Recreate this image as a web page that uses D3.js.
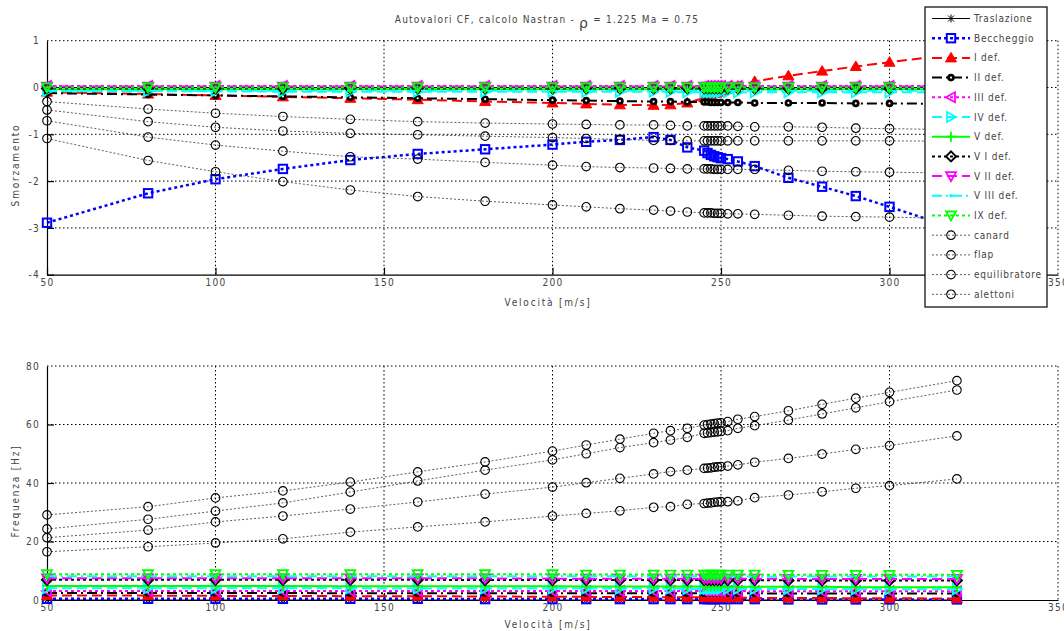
<!DOCTYPE html>
<html>
<head>
<meta charset="utf-8">
<script src="https://d3js.org/d3.v7.min.js"></script>
<style>
  body { margin: 0; background: #fff; }
  svg { display: block; }
  text { font-family: "Liberation Sans Narrow", "DejaVu Sans Condensed", "Liberation Sans", sans-serif; fill: #444; }
</style>
</head>
<body>
<svg id="canvas" width="1064" height="631"></svg>
<script>
// ---------------------------------------------------------------- //
// Dati

var velocita = [50, 80, 100, 120, 140, 160, 180, 200, 210, 220, 230, 235, 240, 245, 246, 247, 248, 249, 250, 252, 255, 260, 270, 280, 290, 300, 320];

var nomiModi = ['Traslazione', 'Beccheggio', 'I def.', 'II def.', 'III def.', 'IV  def.', 'V  def.', 'V I def.', 'V II def.', 'V III def.', 'IX  def.', 'canard', 'flap', 'equilibratore', 'alettoni'];

// smorzamento
var smTrasl  = [0,0,0,0,0,0,0,0,0,0,0,0,0,0,0,0,0,0,0,0,0,0,0,0,0,0,0];
var smBecch  = [-2.89,-2.26,-1.96,-1.74,-1.55,-1.42,-1.32,-1.22,-1.16,-1.12,-1.06,-1.12,-1.28,-1.35,-1.40,-1.44,-1.47,-1.49,-1.51,-1.53,-1.58,-1.68,-1.93,-2.12,-2.32,-2.55,-3.02];
var smDefI   = [-0.10,-0.14,-0.17,-0.20,-0.23,-0.26,-0.30,-0.33,-0.35,-0.37,-0.38,-0.37,-0.33,-0.22,-0.19,-0.16,-0.13,-0.10,-0.08,-0.03,0.03,0.13,0.25,0.35,0.45,0.54,0.72];
var smDefII  = [-0.12,-0.15,-0.17,-0.19,-0.21,-0.23,-0.25,-0.27,-0.28,-0.29,-0.30,-0.30,-0.31,-0.31,-0.31,-0.32,-0.32,-0.32,-0.32,-0.32,-0.32,-0.33,-0.33,-0.33,-0.34,-0.34,-0.35];
var smDefIII = [0.03,0.03,0.03,0.03,0.03,0.03,0.03,0.03,0.03,0.03,0.03,0.03,0.03,0.03,0.03,0.03,0.03,0.03,0.03,0.03,0.03,0.03,0.03,0.03,0.03,0.03,0.03];
var smDefIV  = [-0.08,-0.08,-0.08,-0.09,-0.09,-0.09,-0.09,-0.09,-0.09,-0.09,-0.09,-0.09,-0.10,-0.10,-0.10,-0.10,-0.10,-0.10,-0.10,-0.10,-0.10,-0.10,-0.10,-0.10,-0.10,-0.10,-0.10];
var smDefV   = [-0.04,-0.04,-0.04,-0.04,-0.04,-0.04,-0.04,-0.04,-0.04,-0.04,-0.04,-0.04,-0.04,-0.04,-0.04,-0.04,-0.04,-0.04,-0.04,-0.04,-0.04,-0.04,-0.04,-0.04,-0.04,-0.04,-0.04];
var smDefVI  = [-0.02,-0.02,-0.02,-0.02,-0.02,-0.02,-0.02,-0.02,-0.02,-0.02,-0.02,-0.02,-0.02,-0.02,-0.02,-0.02,-0.02,-0.02,-0.02,-0.02,-0.02,-0.02,-0.02,-0.02,-0.02,-0.02,-0.02];
var smDefVII = [0.02,0.02,0.02,0.02,0.02,0.02,0.02,0.02,0.02,0.02,0.02,0.02,0.02,0.02,0.02,0.02,0.02,0.02,0.02,0.02,0.02,0.02,0.02,0.02,0.02,0.02,0.02];
var smDefVIII= [-0.07,-0.07,-0.07,-0.07,-0.07,-0.07,-0.07,-0.07,-0.07,-0.07,-0.07,-0.07,-0.07,-0.07,-0.07,-0.07,-0.07,-0.07,-0.07,-0.07,-0.07,-0.07,-0.07,-0.07,-0.07,-0.07,-0.07];
var smDefIX  = [0,0,0,0,0,0,0,0,0,0,0,0,0,0,0,0,0,0,0,0,0,0,0,0,0,0,0];
var smCanard = [-0.30,-0.46,-0.55,-0.62,-0.68,-0.73,-0.76,-0.78,-0.79,-0.80,-0.80,-0.81,-0.82,-0.82,-0.82,-0.82,-0.82,-0.82,-0.82,-0.82,-0.83,-0.84,-0.84,-0.85,-0.87,-0.88,-0.90];
var smFlap   = [-0.48,-0.73,-0.85,-0.93,-0.98,-1.01,-1.04,-1.07,-1.09,-1.11,-1.13,-1.13,-1.14,-1.14,-1.14,-1.14,-1.14,-1.14,-1.14,-1.14,-1.14,-1.14,-1.14,-1.14,-1.14,-1.14,-1.15];
var smEquil  = [-0.71,-1.06,-1.23,-1.36,-1.48,-1.53,-1.60,-1.66,-1.69,-1.71,-1.72,-1.73,-1.74,-1.74,-1.74,-1.74,-1.75,-1.75,-1.75,-1.75,-1.75,-1.75,-1.77,-1.79,-1.80,-1.81,-1.83];
var smAlett  = [-1.09,-1.56,-1.80,-2.01,-2.19,-2.33,-2.43,-2.51,-2.55,-2.59,-2.62,-2.64,-2.66,-2.68,-2.68,-2.68,-2.69,-2.69,-2.69,-2.70,-2.70,-2.71,-2.73,-2.75,-2.76,-2.77,-2.80];

// frequenza [Hz]
var frTrasl  = [0,0,0,0,0,0,0,0,0,0,0,0,0,0,0,0,0,0,0,0,0,0,0,0,0,0,0];
var frBecch  = [0.4,0.4,0.4,0.4,0.4,0.4,0.3,0.3,0.3,0.3,0.3,0.3,0.3,0.3,0.3,0.3,0.3,0.3,0.3,0.3,0.3,0.3,0.2,0.2,0.2,0.2,0.2];
var frDefI   = [1.5,1.5,1.4,1.4,1.3,1.3,1.2,1.1,1.1,1.0,1.0,0.9,0.9,0.9,0.9,0.8,0.8,0.8,0.8,0.8,0.8,0.7,0.7,0.7,0.6,0.6,0.5];
var frDefII  = [2.4,2.4,2.4,2.4,2.3,2.3,2.3,2.3,2.3,2.3,2.3,2.3,2.3,2.3,2.3,2.3,2.3,2.3,2.3,2.3,2.3,2.3,2.2,2.2,2.2,2.2,2.2];
var frDefIII = [3.1,3.1,3.1,3.1,3.1,3.1,3.1,3.1,3.1,3.1,3.1,3.1,3.1,3.1,3.1,3.1,3.1,3.1,3.1,3.1,3.1,3.0,3.0,3.0,3.0,3.0,3.0];
var frDefIV  = [4.0,4.0,4.0,4.0,4.0,3.9,3.9,3.9,3.9,3.9,3.9,3.9,3.8,3.8,3.8,3.8,3.8,3.8,3.8,3.8,3.8,3.8,3.8,3.7,3.7,3.7,3.7];
var frDefV   = [4.8,4.8,4.8,4.8,4.7,4.7,4.7,4.7,4.6,4.6,4.6,4.6,4.6,4.6,4.6,4.6,4.6,4.6,4.6,4.6,4.5,4.5,4.5,4.5,4.4,4.4,4.4];
var frDefVI  = [6.9,6.9,6.9,6.9,6.9,6.9,6.8,6.8,6.8,6.8,6.8,6.8,6.8,6.8,6.8,6.8,6.8,6.8,6.8,6.8,6.8,6.8,6.7,6.7,6.7,6.7,6.7];
var frDefVII = [7.4,7.4,7.4,7.4,7.4,7.4,7.4,7.3,7.3,7.3,7.3,7.3,7.3,7.3,7.3,7.3,7.3,7.3,7.3,7.3,7.3,7.3,7.2,7.2,7.2,7.2,7.2];
var frDefVIII= [8.1,8.1,8.1,8.1,8.1,8.1,8.1,8.1,8.1,8.1,8.1,8.1,8.1,8.1,8.1,8.1,8.1,8.1,8.1,8.1,8.0,8.0,8.0,8.0,8.0,8.0,8.0];
var frDefIX  = [8.8,8.8,8.8,8.8,8.8,8.8,8.8,8.8,8.7,8.7,8.7,8.7,8.7,8.7,8.7,8.7,8.7,8.7,8.7,8.7,8.7,8.7,8.6,8.6,8.6,8.6,8.6];
var frCanard = [29.1,31.9,34.9,37.3,40.3,43.8,47.2,50.9,53.0,55.0,57.0,57.9,58.7,59.8,60.0,60.1,60.3,60.5,60.6,61.0,61.8,62.7,64.7,66.9,69.0,71.0,75.0];
var frFlap   = [24.3,27.6,30.4,33.2,36.9,40.7,44.4,47.9,50.0,52.1,53.8,54.7,55.6,57.0,57.1,57.2,57.4,57.5,57.6,57.9,58.7,59.6,61.5,63.6,65.7,67.8,71.8];
var frEquil  = [21.3,23.9,26.7,28.7,31.1,33.5,36.2,38.6,40.1,41.6,43.1,43.9,44.4,45.0,45.1,45.2,45.4,45.5,45.6,45.8,46.2,47.1,48.4,49.9,51.5,52.8,56.1];
var frAlett  = [16.5,18.2,19.5,20.9,23.2,25.0,26.7,28.7,29.6,30.5,31.7,31.9,32.7,33.0,33.1,33.2,33.4,33.5,33.6,33.6,33.9,35.0,35.9,37.0,38.2,39.1,41.4];

var xTicks = [50, 100, 150, 200, 250, 300, 350];
var ySmTicks = [-4, -3, -2, -1, 0, 1];
var yFrTicks = [0, 20, 40, 60, 80];

// ---------------------------------------------------------------- //
// Stili delle serie

var modi = [
  { sm: smTrasl,   fr: frTrasl,   col: '#000000', dash: null,         lw: 1,   mk: 'asterisk' },
  { sm: smBecch,   fr: frBecch,   col: '#0000ff', dash: '3,3',        lw: 2.5, mk: 'square' },
  { sm: smDefI,    fr: frDefI,    col: '#ff0000', dash: '10,5',       lw: 2,   mk: 'triUpFill' },
  { sm: smDefII,   fr: frDefII,   col: '#000000', dash: '10,4,2,4',   lw: 2,   mk: 'hexagram' },
  { sm: smDefIII,  fr: frDefIII,  col: '#ff00ff', dash: '3,3',        lw: 2,   mk: 'triLeft' },
  { sm: smDefIV,   fr: frDefIV,   col: '#00ffff', dash: '10,5',       lw: 2,   mk: 'triRight' },
  { sm: smDefV,    fr: frDefV,    col: '#00ff00', dash: null,         lw: 2,   mk: 'plus' },
  { sm: smDefVI,   fr: frDefVI,   col: '#000000', dash: '3,3',        lw: 2,   mk: 'diamond' },
  { sm: smDefVII,  fr: frDefVII,  col: '#ff00ff', dash: '10,5',       lw: 2,   mk: 'triDown' },
  { sm: smDefVIII, fr: frDefVIII, col: '#00ffff', dash: '10,4,2,4',   lw: 2,   mk: 'dot' },
  { sm: smDefIX,   fr: frDefIX,   col: '#00ff00', dash: '3,3',        lw: 2,   mk: 'triDown' },
  { sm: smCanard,  fr: frCanard,  col: '#000000', dash: '2,2',        lw: 0.8, mk: 'circle' },
  { sm: smFlap,    fr: frFlap,    col: '#000000', dash: '2,2',        lw: 0.8, mk: 'circle' },
  { sm: smEquil,   fr: frEquil,   col: '#000000', dash: '2,2',        lw: 0.8, mk: 'circle' },
  { sm: smAlett,   fr: frAlett,   col: '#000000', dash: '2,2',        lw: 0.8, mk: 'circle' }
];

// ---------------------------------------------------------------- //
// Canvas

var svg = d3.select('#canvas');
var xScale = d3.scaleLinear().domain([50, 350]).range([47, 1058]);
var ySm = d3.scaleLinear().domain([-4, 1]).range([274.7, 40.7]);
var yFr = d3.scaleLinear().domain([0, 80]).range([600, 366]);
var fontNarrow = '"Liberation Sans Narrow", "DejaVu Sans Condensed", "Liberation Sans", sans-serif';

function drawMarker(g, type, x, y, c) {
  var m = g.append('g').attr('transform', 'translate(' + x + ',' + y + ')');
  switch (type) {
    case 'circle':
      m.append('circle').attr('r', 4.3).attr('fill', 'none').attr('stroke', c).attr('stroke-width', 1.1);
      break;
    case 'square':
      m.append('rect').attr('x', -4.2).attr('y', -4.2).attr('width', 8.4).attr('height', 8.4)
        .attr('fill', 'none').attr('stroke', c).attr('stroke-width', 2);
      break;
    case 'triUpFill':
      m.append('path').attr('d', 'M0,-5.5L5.5,4L-5.5,4Z').attr('fill', c).attr('stroke', c).attr('stroke-width', 1);
      break;
    case 'hexagram':
      m.append('circle').attr('r', 3.8).attr('fill', c);
      m.append('circle').attr('r', 1.1).attr('fill', '#fff');
      break;
    case 'triLeft':
      m.append('path').attr('d', 'M-5,0L4,-5L4,5Z').attr('fill', 'none').attr('stroke', c).attr('stroke-width', 1.8);
      break;
    case 'triRight':
      m.append('path').attr('d', 'M5,0L-4,-5L-4,5Z').attr('fill', 'none').attr('stroke', c).attr('stroke-width', 1.8);
      break;
    case 'triDown':
      m.append('path').attr('d', 'M0,5L-5,-4L5,-4Z').attr('fill', 'none').attr('stroke', c).attr('stroke-width', 1.8);
      break;
    case 'plus':
      m.append('path').attr('d', 'M-5,0H5M0,-5V5').attr('stroke', c).attr('stroke-width', 1.8);
      break;
    case 'diamond':
      m.append('path').attr('d', 'M0,-5L5,0L0,5L-5,0Z').attr('fill', 'none').attr('stroke', c).attr('stroke-width', 2);
      break;
    case 'dot':
      m.append('circle').attr('r', 1.8).attr('fill', c);
      break;
    case 'asterisk':
      m.append('path').attr('d', 'M-4,0H4M0,-4V4M-3,-3L3,3M-3,3L3,-3').attr('stroke', c).attr('stroke-width', 1);
      break;
  }
}

function drawAxes(yScale, yTicks, yLabel, yLabelY, xLabelY) {
  var g = svg.append('g');
  var x0 = xScale.range()[0], x1 = xScale.range()[1];
  var yb = yScale.range()[0], yt = yScale.range()[1];

  // griglia
  yTicks.forEach(function(t) {
    if (yScale(t) === yb) return;
    g.append('line').attr('x1', x0).attr('x2', x1).attr('y1', yScale(t)).attr('y2', yScale(t))
      .attr('stroke', '#000').attr('stroke-width', 1).attr('stroke-dasharray', '1.5,2.5');
  });
  xTicks.forEach(function(t) {
    if (xScale(t) === x0) return;
    g.append('line').attr('x1', xScale(t)).attr('x2', xScale(t)).attr('y1', yt).attr('y2', yb)
      .attr('stroke', '#000').attr('stroke-width', 1).attr('stroke-dasharray', '1.5,2.5');
  });

  var fmt = function(d) { return String(d); };
  var xAxis = g.append('g').attr('transform', 'translate(0,' + yb + ')')
    .call(d3.axisBottom(xScale).tickValues(xTicks).tickFormat(fmt).tickSizeInner(-7).tickSizeOuter(0).tickPadding(4));
  var yAxis = g.append('g').attr('transform', 'translate(' + x0 + ',0)')
    .call(d3.axisLeft(yScale).tickValues(yTicks).tickFormat(fmt).tickSizeInner(-7).tickSizeOuter(0).tickPadding(7));
  [xAxis, yAxis].forEach(function(a) {
    a.select('.domain').attr('stroke', '#000').attr('stroke-width', 1.2);
    a.selectAll('.tick line').attr('stroke', '#000').attr('stroke-width', 1.2);
    a.selectAll('.tick text').style('font-size', '10px').style('letter-spacing', '1.3px').attr('fill', '#555')
      .style('font-family', fontNarrow);
  });
  yAxis.selectAll('.tick line').filter(function(d) { return yScale(d) === yt; }).remove();
  xAxis.selectAll('.tick line').filter(function(d) { return xScale(d) === x1; }).remove();

  g.append('text').attr('transform', 'translate(15,' + yLabelY + ') rotate(-90)')
    .attr('text-anchor', 'middle').attr('dominant-baseline', 'central')
    .style('font-size', '10px').style('letter-spacing', '1.8px').text(yLabel);
  g.append('text').attr('x', 548).attr('y', xLabelY)
    .attr('text-anchor', 'middle').attr('dominant-baseline', 'central')
    .style('font-size', '10px').style('letter-spacing', '1.8px').text('Velocità [m/s]');
}

function drawSeries(yScale, key) {
  var g = svg.append('g');
  modi.forEach(function(m) {
    var pts = velocita.map(function(v, i) { return [xScale(v), yScale(m[key][i])]; });
    var path = g.append('path').attr('d', d3.line()(pts)).attr('fill', 'none')
      .attr('stroke', m.col).attr('stroke-width', m.lw);
    if (m.dash) path.attr('stroke-dasharray', m.dash);
    if (m.mk === 'circle') path.attr('stroke', '#333');
    pts.forEach(function(p) { drawMarker(g, m.mk, p[0], p[1], m.col); });
  });
}

// ---------------------------------------------------------------- //
// Grafici

drawAxes(ySm, ySmTicks, 'Smorzamento', 165, 302);
drawSeries(ySm, 'sm');
drawAxes(yFr, yFrTicks, 'Frequenza [Hz]', 491, 624);
drawSeries(yFr, 'fr');

// titolo
var title = svg.append('text').attr('x', 547).attr('y', 23).attr('text-anchor', 'middle')
  .style('font-size', '10px').style('letter-spacing', '1.2px');
title.append('tspan').text('Autovalori CF, calcolo Nastran - ');
title.append('tspan').attr('dy', 5).style('font-size', '14px').style('font-family', '"DejaVu Sans", sans-serif').text('ρ');
title.append('tspan').attr('dy', -5).text(' = 1.225   Ma = 0.75');

// legenda
var leg = svg.append('g');
leg.append('rect').attr('x', 925).attr('y', 7).attr('width', 122).attr('height', 300)
  .attr('fill', '#fff').attr('stroke', '#000').attr('stroke-width', 1.2);
modi.forEach(function(m, i) {
  var y = 18.5 + i * 19.7;
  var l = leg.append('line').attr('x1', 932).attr('x2', 970).attr('y1', y).attr('y2', y)
    .attr('stroke', m.mk === 'circle' ? '#333' : m.col).attr('stroke-width', m.lw);
  if (m.dash) l.attr('stroke-dasharray', m.dash);
  drawMarker(leg, m.mk, 951, y, m.col);
  leg.append('text').attr('x', 974).attr('y', y).attr('dominant-baseline', 'central')
    .style('font-size', '10px').style('letter-spacing', '0.8px').attr('fill', '#333').text(nomiModi[i]);
});
</script>
</body>
</html>
